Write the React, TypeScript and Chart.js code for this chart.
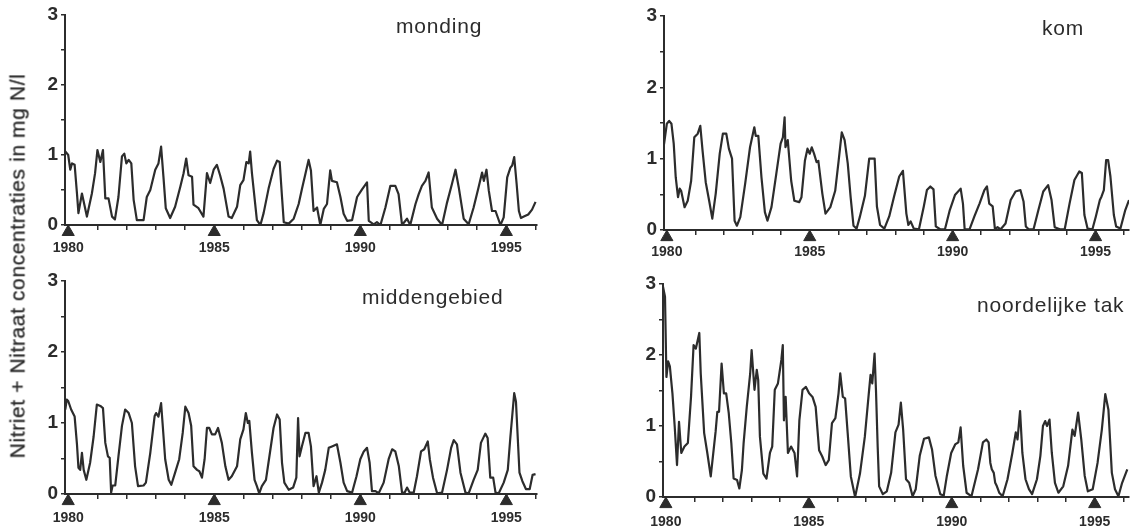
import React, { useEffect, useRef } from 'react';
import { Chart, registerables } from 'chart.js';

Chart.register(...registerables);

// ---------- data (year, mg N/l) ----------
const mondingData: [number, number][] = [
  [1979.9, 1.05], [1980.0, 1.0], [1980.07, 0.79], [1980.13, 0.88], [1980.22, 0.86], [1980.3, 0.45], [1980.35, 0.17],
  [1980.47, 0.45], [1980.64, 0.12], [1980.81, 0.45], [1980.92, 0.74], [1981.0, 1.07], [1981.1, 0.9], [1981.19, 1.07],
  [1981.27, 0.38], [1981.38, 0.38], [1981.5, 0.12], [1981.6, 0.08], [1981.72, 0.4], [1981.84, 0.98], [1981.92, 1.02],
  [1981.99, 0.88], [1982.07, 0.93], [1982.16, 0.88], [1982.24, 0.36], [1982.35, 0.07], [1982.58, 0.07], [1982.69, 0.4],
  [1982.81, 0.5], [1982.98, 0.79], [1983.09, 0.88], [1983.18, 1.12], [1983.26, 0.69], [1983.34, 0.24], [1983.49, 0.1],
  [1983.66, 0.26], [1983.84, 0.55], [1983.95, 0.74], [1984.04, 0.95], [1984.12, 0.71], [1984.24, 0.69], [1984.29, 0.29],
  [1984.46, 0.24], [1984.63, 0.12], [1984.75, 0.74], [1984.86, 0.6], [1984.98, 0.79], [1985.09, 0.86], [1985.2, 0.71],
  [1985.32, 0.52], [1985.49, 0.12], [1985.6, 0.1], [1985.78, 0.26], [1985.89, 0.57], [1986.0, 0.64], [1986.1, 0.9],
  [1986.18, 0.88], [1986.23, 1.05], [1986.29, 0.74], [1986.46, 0.07], [1986.58, 0.0], [1986.69, 0.17], [1986.86, 0.52],
  [1987.03, 0.8], [1987.15, 0.92], [1987.24, 0.9], [1987.32, 0.4], [1987.38, 0.04], [1987.55, 0.02], [1987.72, 0.09],
  [1987.89, 0.3], [1988.0, 0.51], [1988.12, 0.73], [1988.23, 0.93], [1988.31, 0.78], [1988.4, 0.2], [1988.52, 0.25],
  [1988.63, 0.0], [1988.75, 0.23], [1988.86, 0.3], [1988.97, 0.78], [1989.03, 0.63], [1989.2, 0.61], [1989.32, 0.4],
  [1989.43, 0.16], [1989.55, 0.06], [1989.72, 0.07], [1989.89, 0.4], [1990.06, 0.51], [1990.23, 0.61], [1990.29, 0.06],
  [1990.46, 0.01], [1990.57, 0.04], [1990.69, 0.0], [1990.86, 0.25], [1991.03, 0.56], [1991.2, 0.56], [1991.31, 0.44],
  [1991.43, 0.0], [1991.6, 0.09], [1991.71, 0.0], [1991.89, 0.3], [1992.0, 0.44], [1992.11, 0.56], [1992.23, 0.63],
  [1992.34, 0.75], [1992.45, 0.25], [1992.63, 0.09], [1992.8, 0.0], [1992.97, 0.32], [1993.14, 0.59], [1993.26, 0.79],
  [1993.37, 0.54], [1993.54, 0.09], [1993.71, 0.01], [1993.88, 0.25], [1994.05, 0.54], [1994.17, 0.75], [1994.23, 0.63],
  [1994.32, 0.79], [1994.4, 0.49], [1994.51, 0.2], [1994.63, 0.2], [1994.8, 0.0], [1994.91, 0.11], [1995.03, 0.68],
  [1995.14, 0.82], [1995.2, 0.85], [1995.27, 0.97], [1995.35, 0.6], [1995.43, 0.2], [1995.5, 0.1], [1995.6, 0.12],
  [1995.75, 0.15], [1995.88, 0.22], [1996.0, 0.33],
];

const komData: [number, number][] = [
  [1979.9, 1.2], [1980.0, 1.49], [1980.08, 1.53], [1980.16, 1.49], [1980.24, 1.21], [1980.31, 0.74], [1980.39, 0.46],
  [1980.45, 0.58], [1980.5, 0.55], [1980.62, 0.32], [1980.73, 0.41], [1980.85, 0.69], [1980.96, 1.3], [1981.08, 1.35],
  [1981.17, 1.46], [1981.25, 1.11], [1981.36, 0.67], [1981.48, 0.41], [1981.59, 0.16], [1981.71, 0.51], [1981.85, 1.07],
  [1981.96, 1.35], [1982.08, 1.35], [1982.17, 1.14], [1982.28, 1.0], [1982.37, 0.13], [1982.45, 0.06], [1982.57, 0.18],
  [1982.74, 0.65], [1982.91, 1.16], [1983.06, 1.44], [1983.11, 1.32], [1983.2, 1.32], [1983.31, 0.74], [1983.43, 0.25],
  [1983.52, 0.13], [1983.66, 0.32], [1983.83, 0.79], [1983.98, 1.21], [1984.06, 1.3], [1984.12, 1.58], [1984.15, 1.16],
  [1984.23, 1.26], [1984.35, 0.69], [1984.46, 0.41], [1984.63, 0.39], [1984.71, 0.46], [1984.83, 0.97], [1984.92, 1.14],
  [1985.0, 1.07], [1985.07, 1.16], [1985.15, 1.07], [1985.24, 0.95], [1985.3, 0.97], [1985.44, 0.51], [1985.55, 0.23],
  [1985.72, 0.32], [1985.89, 0.55], [1986.01, 0.97], [1986.12, 1.37], [1986.22, 1.26], [1986.33, 0.93], [1986.43, 0.46],
  [1986.53, 0.06], [1986.64, 0.02], [1986.75, 0.18], [1986.93, 0.48], [1987.08, 1.0], [1987.27, 1.0], [1987.35, 0.33],
  [1987.46, 0.07], [1987.61, 0.02], [1987.78, 0.19], [1987.95, 0.47], [1988.13, 0.75], [1988.26, 0.83], [1988.38, 0.23],
  [1988.45, 0.07], [1988.53, 0.12], [1988.64, 0.02], [1988.82, 0.01], [1988.99, 0.33], [1989.1, 0.56], [1989.22, 0.61],
  [1989.33, 0.57], [1989.41, 0.05], [1989.56, 0.01], [1989.73, 0.01], [1989.9, 0.28], [1990.08, 0.49], [1990.28, 0.58],
  [1990.36, 0.37], [1990.42, 0.01], [1990.59, 0.01], [1990.76, 0.19], [1990.94, 0.37], [1991.11, 0.56], [1991.2, 0.61],
  [1991.28, 0.37], [1991.4, 0.33], [1991.48, 0.01], [1991.57, 0.04], [1991.68, 0.01], [1991.85, 0.09], [1992.03, 0.42],
  [1992.2, 0.54], [1992.37, 0.56], [1992.48, 0.4], [1992.56, 0.05], [1992.66, 0.01], [1992.83, 0.01], [1993.0, 0.28],
  [1993.17, 0.54], [1993.34, 0.63], [1993.46, 0.42], [1993.57, 0.04], [1993.75, 0.01], [1993.92, 0.01], [1994.09, 0.37],
  [1994.26, 0.7], [1994.43, 0.82], [1994.52, 0.8], [1994.61, 0.21], [1994.72, 0.02], [1994.89, 0.01], [1995.01, 0.19],
  [1995.15, 0.42], [1995.21, 0.47], [1995.29, 0.56], [1995.37, 0.98], [1995.44, 0.98], [1995.52, 0.75], [1995.64, 0.21],
  [1995.72, 0.05], [1995.87, 0.02], [1996.04, 0.28], [1996.17, 0.42],
];

const middengebiedData: [number, number][] = [
  [1979.9, 1.19], [1979.95, 1.33], [1980.0, 1.31], [1980.1, 1.19], [1980.22, 1.09], [1980.3, 0.7], [1980.35, 0.37],
  [1980.41, 0.34], [1980.47, 0.58], [1980.53, 0.34], [1980.62, 0.2], [1980.75, 0.44], [1980.87, 0.81], [1980.98, 1.26],
  [1981.1, 1.24], [1981.19, 1.21], [1981.27, 0.72], [1981.36, 0.53], [1981.42, 0.51], [1981.47, 0.02], [1981.52, 0.12],
  [1981.61, 0.12], [1981.72, 0.53], [1981.84, 0.96], [1981.95, 1.19], [1982.07, 1.14], [1982.18, 1.0], [1982.29, 0.39],
  [1982.39, 0.11], [1982.58, 0.12], [1982.66, 0.16], [1982.81, 0.58], [1982.96, 1.1], [1983.01, 1.14], [1983.09, 1.09],
  [1983.18, 1.28], [1983.23, 1.0], [1983.32, 0.49], [1983.44, 0.2], [1983.53, 0.13], [1983.66, 0.3], [1983.8, 0.49],
  [1983.92, 0.86], [1984.01, 1.23], [1984.12, 1.14], [1984.21, 0.96], [1984.29, 0.39], [1984.41, 0.34], [1984.49, 0.32],
  [1984.58, 0.23], [1984.67, 0.49], [1984.75, 0.93], [1984.83, 0.93], [1984.92, 0.84], [1985.03, 0.84], [1985.13, 0.93],
  [1985.26, 0.72], [1985.38, 0.39], [1985.49, 0.2], [1985.6, 0.25], [1985.78, 0.39], [1985.89, 0.77], [1986.0, 0.91],
  [1986.08, 1.14], [1986.15, 1.0], [1986.2, 1.03], [1986.29, 0.58], [1986.38, 0.2], [1986.46, 0.11], [1986.54, 0.01],
  [1986.63, 0.11], [1986.77, 0.2], [1986.92, 0.62], [1987.03, 0.93], [1987.15, 1.12], [1987.24, 1.05], [1987.32, 0.44],
  [1987.4, 0.16], [1987.55, 0.06], [1987.7, 0.09], [1987.81, 0.23], [1987.87, 1.07], [1987.92, 0.53], [1988.0, 0.67],
  [1988.12, 0.86], [1988.23, 0.86], [1988.31, 0.67], [1988.4, 0.11], [1988.5, 0.25], [1988.58, 0.02], [1988.69, 0.16],
  [1988.8, 0.34], [1988.92, 0.65], [1989.03, 0.67], [1989.2, 0.7], [1989.32, 0.44], [1989.43, 0.16], [1989.55, 0.04],
  [1989.72, 0.02], [1989.87, 0.25], [1990.0, 0.49], [1990.12, 0.6], [1990.23, 0.65], [1990.32, 0.44], [1990.4, 0.04],
  [1990.52, 0.04], [1990.63, 0.01], [1990.8, 0.16], [1990.97, 0.49], [1991.09, 0.63], [1991.2, 0.6], [1991.32, 0.39],
  [1991.43, 0.02], [1991.52, 0.02], [1991.6, 0.09], [1991.69, 0.02], [1991.83, 0.02], [1991.94, 0.25], [1992.08, 0.6],
  [1992.19, 0.63], [1992.31, 0.74], [1992.38, 0.49], [1992.49, 0.23], [1992.63, 0.01], [1992.8, 0.02], [1992.97, 0.34],
  [1993.11, 0.65], [1993.2, 0.76], [1993.31, 0.7], [1993.43, 0.3], [1993.6, 0.02], [1993.71, 0.01], [1993.88, 0.2],
  [1994.02, 0.34], [1994.13, 0.72], [1994.28, 0.85], [1994.36, 0.79], [1994.45, 0.23], [1994.55, 0.23], [1994.63, 0.02],
  [1994.74, 0.01], [1994.91, 0.16], [1995.05, 0.34], [1995.14, 0.81], [1995.27, 1.42], [1995.33, 1.3], [1995.45, 0.3],
  [1995.55, 0.18], [1995.67, 0.07], [1995.8, 0.07], [1995.9, 0.27], [1996.0, 0.28],
];

const noordelijkeTakData: [number, number][] = [
  [1979.9, 2.96], [1979.97, 2.82], [1980.02, 1.69], [1980.08, 1.91], [1980.14, 1.84], [1980.23, 1.46], [1980.31, 0.99],
  [1980.39, 0.45], [1980.46, 1.06], [1980.54, 0.62], [1980.65, 0.71], [1980.77, 0.76], [1980.88, 1.41], [1980.97, 2.14],
  [1981.05, 2.09], [1981.17, 2.31], [1981.22, 1.74], [1981.34, 0.9], [1981.45, 0.62], [1981.57, 0.29], [1981.74, 0.92],
  [1981.8, 1.2], [1981.86, 1.2], [1981.95, 1.88], [1982.03, 1.46], [1982.11, 1.46], [1982.2, 1.18], [1982.29, 0.76],
  [1982.37, 0.26], [1982.49, 0.24], [1982.57, 0.12], [1982.66, 0.38], [1982.72, 0.76], [1982.83, 1.27], [1982.95, 1.74],
  [1983.0, 2.07], [1983.1, 1.51], [1983.18, 1.79], [1983.23, 1.65], [1983.29, 0.85], [1983.41, 0.33], [1983.52, 0.26],
  [1983.64, 0.62], [1983.72, 0.71], [1983.81, 1.51], [1983.92, 1.6], [1984.04, 1.93], [1984.09, 2.14], [1984.13, 1.08],
  [1984.19, 1.41], [1984.27, 0.62], [1984.38, 0.71], [1984.5, 0.62], [1984.59, 0.29], [1984.67, 1.08], [1984.78, 1.51],
  [1984.9, 1.55], [1985.01, 1.46], [1985.13, 1.41], [1985.24, 1.27], [1985.36, 0.66], [1985.47, 0.57], [1985.59, 0.45],
  [1985.7, 0.52], [1985.81, 1.04], [1985.93, 1.11], [1986.04, 1.46], [1986.1, 1.74], [1986.19, 1.41], [1986.27, 1.39],
  [1986.36, 0.9], [1986.47, 0.29], [1986.62, 0.0], [1986.79, 0.33], [1986.96, 0.85], [1987.11, 1.51], [1987.16, 1.72],
  [1987.22, 1.6], [1987.3, 2.02], [1987.35, 1.5], [1987.41, 0.7], [1987.46, 0.15], [1987.59, 0.04], [1987.73, 0.08],
  [1987.88, 0.34], [1988.03, 0.91], [1988.14, 1.02], [1988.22, 1.33], [1988.3, 0.95], [1988.4, 0.25], [1988.51, 0.2],
  [1988.63, 0.01], [1988.74, 0.11], [1988.88, 0.58], [1989.03, 0.82], [1989.2, 0.84], [1989.31, 0.67], [1989.43, 0.3],
  [1989.6, 0.04], [1989.72, 0.02], [1989.83, 0.3], [1989.98, 0.62], [1990.12, 0.74], [1990.23, 0.77], [1990.31, 0.98],
  [1990.4, 0.44], [1990.52, 0.06], [1990.69, 0.01], [1990.92, 0.39], [1991.09, 0.77], [1991.21, 0.81], [1991.29, 0.77],
  [1991.35, 0.48], [1991.4, 0.39], [1991.47, 0.34], [1991.52, 0.2], [1991.58, 0.15], [1991.66, 0.06], [1991.78, 0.01],
  [1991.95, 0.25], [1992.12, 0.62], [1992.24, 0.91], [1992.3, 0.81], [1992.39, 1.21], [1992.47, 0.62], [1992.58, 0.25],
  [1992.7, 0.11], [1992.81, 0.04], [1992.98, 0.25], [1993.1, 0.58], [1993.19, 1.0], [1993.27, 1.07], [1993.33, 1.0],
  [1993.42, 1.09], [1993.5, 0.62], [1993.61, 0.2], [1993.73, 0.06], [1993.9, 0.15], [1994.07, 0.44], [1994.22, 0.95],
  [1994.3, 0.86], [1994.42, 1.19], [1994.53, 0.81], [1994.65, 0.3], [1994.76, 0.08], [1994.93, 0.11], [1995.1, 0.48],
  [1995.25, 0.95], [1995.37, 1.45], [1995.48, 1.23], [1995.6, 0.34], [1995.71, 0.11], [1995.83, 0.01], [1995.96, 0.2],
  [1996.14, 0.39],
];

const panelTitles = ['monding', 'kom', 'middengebied', 'noordelijke tak'];
const yearTicks = [1980, 1981, 1982, 1983, 1984, 1985, 1986, 1987, 1988, 1989, 1990, 1991, 1992, 1993, 1994, 1995, 1996];
const markerYears = [1980, 1985, 1990, 1995];
const yMin = 0;
const yMax = 3;
const yStep = 0.5;
const yAxisTitle = 'Nitriet + Nitraat concentraties in mg N/l';

// ---------- layout / style ----------
const INK = '#2c2c2c';
const FONT = "'Liberation Sans', Arial, Helvetica, sans-serif";

type Panel = {
  title: string;
  data: [number, number][];
  box: { left: number; top: number; w: number; h: number };
  pad: { left: number; top: number; right: number; bottom: number };
  yWidth: number;
  xHeight: number;
  xMin: number;
  xMax: number;
  labelPad: number;
  titlePos: { x: number; y: number };
};

const panels: Panel[] = [
  {
    title: panelTitles[0], data: mondingData,
    box: { left: 0, top: 0, w: 568, h: 262 },
    pad: { left: 0, top: 15, right: 31, bottom: 0 }, yWidth: 65, xHeight: 37,
    xMin: 1979.89, xMax: 1996.05, labelPad: 10, titlePos: { x: 396, y: 33 },
  },
  {
    title: panelTitles[1], data: komData,
    box: { left: 568, top: 0, w: 569, h: 262 },
    pad: { left: 0, top: 16, right: 0, bottom: 0 }, yWidth: 96, xHeight: 32,
    xMin: 1979.9, xMax: 1996.17, labelPad: 9, titlePos: { x: 474, y: 35 },
  },
  {
    title: panelTitles[2], data: middengebiedData,
    box: { left: 0, top: 262, w: 568, h: 268 },
    pad: { left: 0, top: 19, right: 31, bottom: 0 }, yWidth: 65, xHeight: 36,
    xMin: 1979.89, xMax: 1996.05, labelPad: 11, titlePos: { x: 362, y: 42 },
  },
  {
    title: panelTitles[3], data: noordelijkeTakData,
    box: { left: 568, top: 262, w: 569, h: 268 },
    pad: { left: 0, top: 22, right: 0, bottom: 0 }, yWidth: 95, xHeight: 33,
    xMin: 1979.9, xMax: 1996.2, labelPad: 12, titlePos: { x: 409, y: 50 },
  },
];

const panelTitlePlugin = {
  id: 'panelTitle',
  afterDraw(chart: any, _args: any, opts: any) {
    const ctx = chart.ctx as CanvasRenderingContext2D;
    ctx.save();
    ctx.font = `21px ${FONT}`;
    (ctx as any).letterSpacing = '0.8px';
    ctx.fillStyle = INK;
    ctx.textAlign = 'left';
    ctx.textBaseline = 'alphabetic';
    ctx.fillText(opts.text, opts.x, opts.y);
    ctx.restore();
  },
};

function PanelChart({ panel }: { panel: Panel }) {
  const ref = useRef<HTMLCanvasElement>(null);
  useEffect(() => {
    if (!ref.current) return;
    const chart = new Chart(ref.current, {
      type: 'line',
      data: {
        datasets: [
          {
            data: panel.data.map(([x, y]) => ({ x, y })),
            borderColor: INK,
            borderWidth: 2.2,
            borderJoinStyle: 'round',
            pointRadius: 0,
            tension: 0,
            fill: false,
          } as any,
          {
            type: 'scatter',
            data: markerYears.map((x) => ({ x, y: -0.1 })),
            pointStyle: 'triangle',
            pointRadius: 7,
            backgroundColor: INK,
            borderColor: INK,
            borderWidth: 1,
            showLine: false,
            clip: false,
          } as any,
        ],
      },
      options: {
        responsive: false,
        animation: false,
        events: [],
        layout: { padding: panel.pad },
        plugins: {
          legend: { display: false },
          tooltip: { enabled: false },
          title: { display: false },
          panelTitle: { text: panel.title, x: panel.titlePos.x, y: panel.titlePos.y },
        } as any,
        scales: {
          x: {
            type: 'linear',
            min: panel.xMin,
            max: panel.xMax,
            afterFit: (s: any) => { s.height = panel.xHeight; },
            afterBuildTicks: (s: any) => { s.ticks = yearTicks.map((v) => ({ value: v })); },
            ticks: {
              autoSkip: false,
              maxRotation: 0,
              padding: panel.labelPad,
              color: INK,
              font: { family: FONT, size: 14, weight: 'bold' },
              callback: (v: any) => (markerYears.includes(Number(v)) ? String(v) : ''),
            },
            grid: { display: true, drawOnChartArea: false, drawTicks: true, tickLength: 5, color: INK, lineWidth: 1.5 },
            border: { display: true, color: INK, width: 2 },
          },
          y: {
            min: yMin,
            max: yMax,
            afterFit: (s: any) => { s.width = panel.yWidth; },
            ticks: {
              stepSize: yStep,
              padding: 3,
              color: INK,
              font: { family: FONT, size: 19, weight: 'bold' },
              callback: (v: any) => (Math.abs(v - Math.round(v)) < 1e-9 ? String(Math.round(v)) : ''),
            },
            grid: { display: true, drawOnChartArea: false, drawTicks: true, tickLength: 4, color: INK, lineWidth: 1.5 },
            border: { display: true, color: INK, width: 2 },
          },
        },
      } as any,
      plugins: [panelTitlePlugin as any],
    });
    return () => chart.destroy();
  }, [panel]);
  return (
    <canvas
      ref={ref}
      width={panel.box.w}
      height={panel.box.h}
      style={{ position: 'absolute', left: panel.box.left, top: panel.box.top, width: panel.box.w, height: panel.box.h }}
    />
  );
}

export default function App() {
  return (
    <div style={{ position: 'fixed', left: 0, top: 0, width: 1137, height: 530, background: '#fff', overflow: 'hidden' }}>
      {panels.map((p) => (
        <PanelChart key={p.title} panel={p} />
      ))}
      <div
        style={{
          position: 'absolute',
          left: 17,
          top: 266,
          transform: 'translate(-50%, -50%) rotate(-90deg)',
          whiteSpace: 'nowrap',
          fontFamily: FONT,
          fontSize: 21,
          letterSpacing: '0.6px',
          color: INK,
          pointerEvents: 'none',
          lineHeight: 1,
          WebkitTextStroke: '0.3px #2c2c2c',
        }}
      >
        {yAxisTitle}
      </div>
    </div>
  );
}
